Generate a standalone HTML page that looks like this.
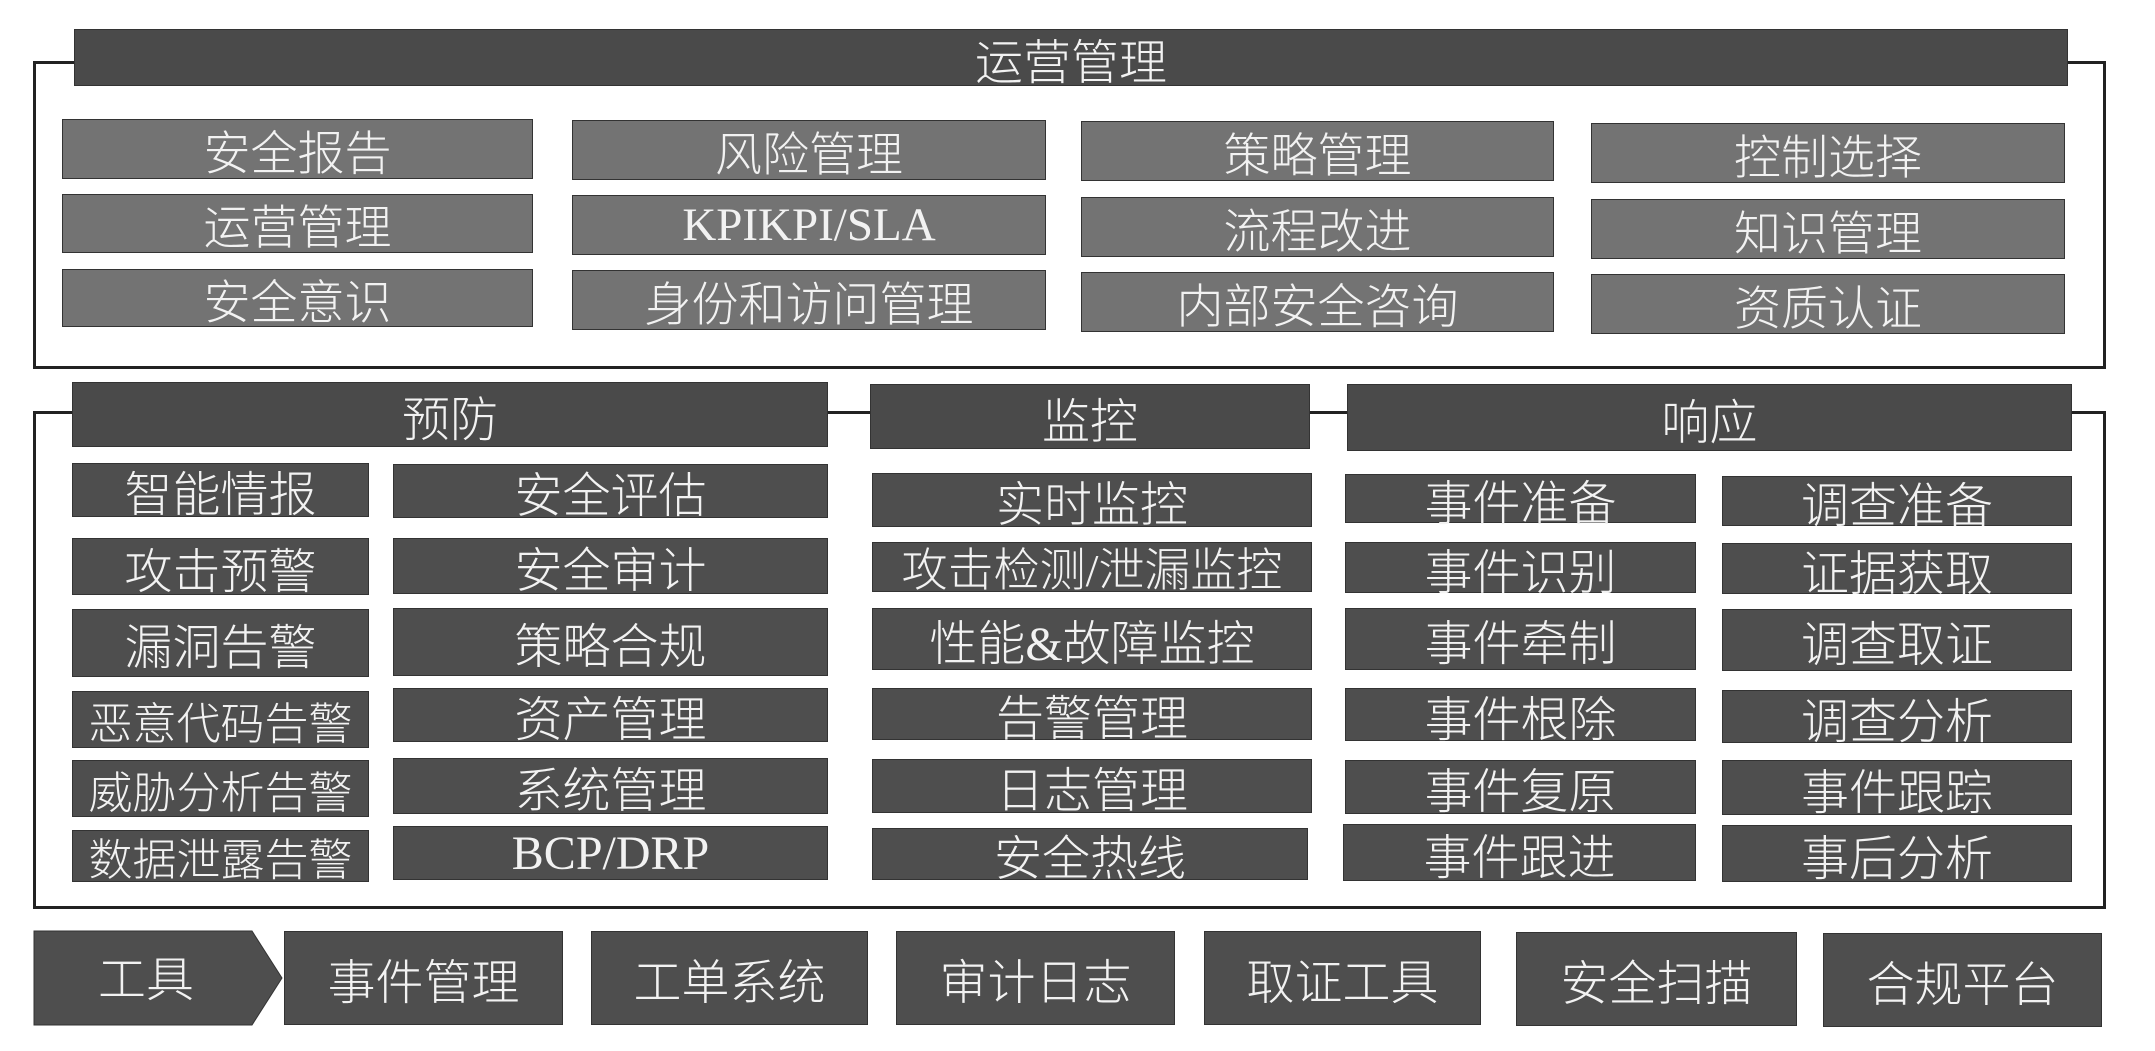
<!DOCTYPE html>
<html><head><meta charset="utf-8"><style>
body{margin:0;width:2155px;height:1051px;background:#fff;position:relative;overflow:hidden;font-family:"Liberation Serif","Noto Sans CJK SC",sans-serif;}
.b{position:absolute;color:#f2f2f2;display:flex;align-items:center;justify-content:center;white-space:nowrap;box-sizing:border-box;border:1px solid #333;font-weight:300;}
.h{background:#4a4a4a;font-size:48px;}
.t{background:#737373;font-size:47px;}
.m{background:#4e4e4e;font-size:48px;}
.f{position:absolute;border:3px solid #222;box-sizing:border-box;}
</style></head><body>
<div class="f" style="left:33px;top:61px;width:2073px;height:308px"></div>
<div class="f" style="left:33px;top:411px;width:2073px;height:498px"></div>

<div class="b h" style="left:74px;top:29px;width:1994px;height:57px">运营管理</div>
<div class="b t" style="left:62px;top:119px;width:471px;height:60px">安全报告</div>
<div class="b t" style="left:572px;top:120px;width:474px;height:60px">风险管理</div>
<div class="b t" style="left:1081px;top:121px;width:473px;height:60px">策略管理</div>
<div class="b t" style="left:1591px;top:123px;width:474px;height:60px">控制选择</div>
<div class="b t" style="left:62px;top:194px;width:471px;height:59px">运营管理</div>
<div class="b t" style="left:572px;top:195px;width:474px;height:60px">KPIKPI/SLA</div>
<div class="b t" style="left:1081px;top:197px;width:473px;height:60px">流程改进</div>
<div class="b t" style="left:1591px;top:199px;width:474px;height:60px">知识管理</div>
<div class="b t" style="left:62px;top:269px;width:471px;height:58px">安全意识</div>
<div class="b t" style="left:572px;top:270px;width:474px;height:60px">身份和访问管理</div>
<div class="b t" style="left:1081px;top:272px;width:473px;height:60px">内部安全咨询</div>
<div class="b t" style="left:1591px;top:274px;width:474px;height:60px">资质认证</div>

<div class="b h" style="left:72px;top:382px;width:756px;height:65px">预防</div>
<div class="b h" style="left:870px;top:384px;width:440px;height:65px">监控</div>
<div class="b h" style="left:1347px;top:384px;width:725px;height:67px">响应</div>

<div class="b m" style="left:72px;top:463px;width:297px;height:54px">智能情报</div>
<div class="b m" style="left:72px;top:538px;width:297px;height:57px">攻击预警</div>
<div class="b m" style="left:72px;top:609px;width:297px;height:68px">漏洞告警</div>
<div class="b m" style="left:72px;top:691px;width:297px;height:57px;font-size:44px">恶意代码告警</div>
<div class="b m" style="left:72px;top:760px;width:297px;height:57px;font-size:44px">威胁分析告警</div>
<div class="b m" style="left:72px;top:830px;width:297px;height:52px;font-size:44px">数据泄露告警</div>

<div class="b m" style="left:393px;top:464px;width:435px;height:54px">安全评估</div>
<div class="b m" style="left:393px;top:538px;width:435px;height:56px">安全审计</div>
<div class="b m" style="left:393px;top:608px;width:435px;height:68px">策略合规</div>
<div class="b m" style="left:393px;top:688px;width:435px;height:54px">资产管理</div>
<div class="b m" style="left:393px;top:758px;width:435px;height:56px">系统管理</div>
<div class="b m" style="left:393px;top:826px;width:435px;height:54px">BCP/DRP</div>

<div class="b m" style="left:872px;top:473px;width:440px;height:54px">实时监控</div>
<div class="b m" style="left:872px;top:542px;width:440px;height:50px;font-size:46px">攻击检测/泄漏监控</div>
<div class="b m" style="left:872px;top:608px;width:440px;height:62px">性能&amp;故障监控</div>
<div class="b m" style="left:872px;top:688px;width:440px;height:52px">告警管理</div>
<div class="b m" style="left:872px;top:759px;width:440px;height:54px">日志管理</div>
<div class="b m" style="left:872px;top:828px;width:436px;height:52px">安全热线</div>

<div class="b m" style="left:1345px;top:474px;width:351px;height:49px">事件准备</div>
<div class="b m" style="left:1345px;top:542px;width:351px;height:51px">事件识别</div>
<div class="b m" style="left:1345px;top:608px;width:351px;height:62px">事件牵制</div>
<div class="b m" style="left:1345px;top:688px;width:351px;height:53px">事件根除</div>
<div class="b m" style="left:1345px;top:760px;width:351px;height:54px">事件复原</div>
<div class="b m" style="left:1343px;top:824px;width:353px;height:57px">事件跟进</div>

<div class="b m" style="left:1722px;top:476px;width:350px;height:50px">调查准备</div>
<div class="b m" style="left:1722px;top:543px;width:350px;height:51px">证据获取</div>
<div class="b m" style="left:1722px;top:609px;width:350px;height:62px">调查取证</div>
<div class="b m" style="left:1722px;top:690px;width:350px;height:53px">调查分析</div>
<div class="b m" style="left:1722px;top:760px;width:350px;height:55px">事件跟踪</div>
<div class="b m" style="left:1722px;top:825px;width:350px;height:57px">事后分析</div>

<svg style="position:absolute;left:0;top:0" width="2155" height="1051"><polygon points="34,931 252,931 282,978 252,1025 34,1025" fill="#4e4e4e" stroke="#333"/><text x="146" y="996" fill="#f2f2f2" font-size="48" font-weight="300" text-anchor="middle" font-family="Liberation Serif, Noto Sans CJK SC, sans-serif">工具</text></svg>
<div class="b m" style="left:284px;top:931px;width:279px;height:94px">事件管理</div>
<div class="b m" style="left:591px;top:931px;width:277px;height:94px">工单系统</div>
<div class="b m" style="left:896px;top:931px;width:279px;height:94px">审计日志</div>
<div class="b m" style="left:1204px;top:931px;width:277px;height:94px">取证工具</div>
<div class="b m" style="left:1516px;top:932px;width:281px;height:94px">安全扫描</div>
<div class="b m" style="left:1823px;top:933px;width:279px;height:94px">合规平台</div>
</body></html>
